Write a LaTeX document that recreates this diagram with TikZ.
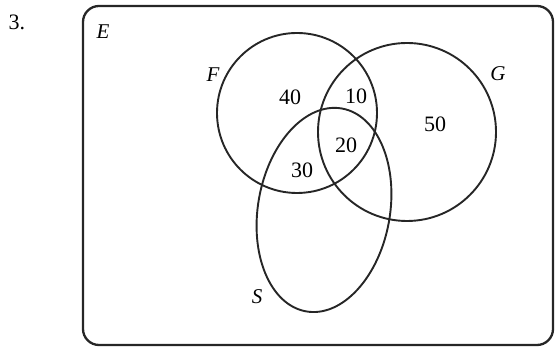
\documentclass[tikz,border=0pt]{standalone}
\usepackage{fontspec}
\setmainfont{Liberation Serif}
\usepackage{tikz}
\usetikzlibrary{positioning}

\begin{document}
\begin{tikzpicture}[x=1pt,y=1pt,
  setline/.style={draw=black!85,line width=1.9pt},
  setname/.style={font=\fontsize{21}{25}\selectfont\itshape},
  count/.style={font=\fontsize{22}{26}\selectfont}]
\useasboundingbox (0,0) rectangle (556,347);

% ------------- universe -------------
\node[count] (num) at (17,325) {3.};
\draw[setline,line width=2.3pt,rounded corners=16pt] (83,2) rectangle (553,341);
\node[setname] (lE) at (103,315) {E};

% ------------- sets -------------
\coordinate (cF) at (297,234);
\coordinate (cG) at (407,215);
\coordinate (cS) at (324,137);
\draw[setline] (cF) circle (80);
\draw[setline] (cG) circle (89);
\draw[setline,rotate around={80:(cS)}] (cS) ellipse (103 and 66);

\node[setname] (lF) at (213,272) {F};
\node[setname] (lG) at (498,273) {G};
\node[setname] (lS) at (257,50) {S};

% ------------- counts -------------
\node[count] (nF)   at (290,250) {40};
\node[count] (nFG)  at (356,251) {10};
\node[count] (nFGS) at (346,202) {20};
\node[count] (nFS)  at (302,177) {30};
\node[count] (nG)   at (435,223) {50};

\end{tikzpicture}
\end{document}
